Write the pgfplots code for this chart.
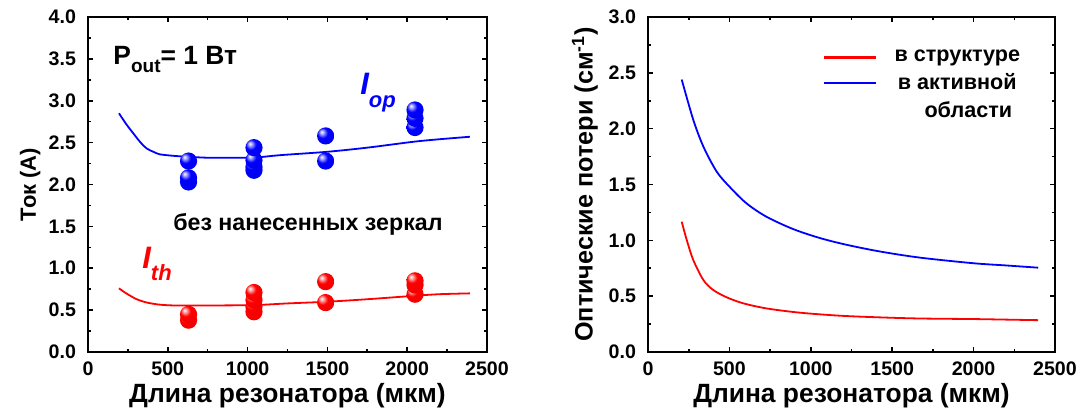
\documentclass[border=0pt]{standalone}
\usepackage{pgfplots}
\pgfplotsset{compat=1.18}
\usepackage{fontspec}
\setmainfont{Liberation Sans}
\pgfdeclareradialshading{redballsh}{\pgfqpoint{-12bp}{12bp}}{color(0bp)=(white); color(7bp)=(red!45!white); color(15bp)=(red); color(40bp)=(red!92!black); color(62bp)=(red!70!black)}
\pgfdeclareradialshading{blueballsh}{\pgfqpoint{-12bp}{12bp}}{color(0bp)=(white); color(7bp)=(blue!45!white); color(15bp)=(blue); color(40bp)=(blue!92!black); color(62bp)=(blue!70!black)}
\pgfdeclareplotmark{redball}{\pgfpathcircle{\pgfpointorigin}{\pgfplotmarksize}\pgfshadepath{redballsh}{0}\pgfusepath{}}
\pgfdeclareplotmark{blueball}{\pgfpathcircle{\pgfpointorigin}{\pgfplotmarksize}\pgfshadepath{blueballsh}{0}\pgfusepath{}}
\begin{document}
\begin{tikzpicture}
\useasboundingbox (0,0) rectangle (544pt,208.5pt);
\pgfplotsset{
  common/.style={
    scale only axis,
    xmin=0, xmax=2500,
    xtick={0,500,1000,1500,2000,2500},
    minor x tick num=1, minor y tick num=1,
    tick align=inside,
    xtick pos=both, ytick pos=both,
    major tick length=2.6pt, minor tick length=1.6pt,
    axis line style={line width=1pt},
    every tick/.style={line width=0.8pt, black},
    tick label style={font=\fontsize{9.8}{11}\selectfont\bfseries},
    /pgf/number format/assume math mode=true,
    xticklabel style={/pgf/number format/1000 sep={}, yshift=-1.5pt},
    yticklabel style={xshift=-2.5pt, /pgf/number format/fixed, /pgf/number format/fixed zerofill, /pgf/number format/precision=1},
    xlabel={Длина резонатора (мкм)},
    xlabel style={font=\fontsize{13.2}{14}\selectfont\bfseries, yshift=3pt},
    clip=false,
  }
}
% ---------- left panel ----------
\begin{axis}[common,
  at={(44pt,32.5pt)}, anchor=south west,
  width=199.5pt, height=167.5pt,
  ymin=0, ymax=4, ytick={0,0.5,1,1.5,2,2.5,3,3.5,4},
  ylabel={Ток (А)},
  ylabel style={font=\fontsize{11}{12}\selectfont\bfseries, at={(axis description cs:-0.145,0.5)}, anchor=center},
]
\addplot[blue, line width=0.9pt, smooth] coordinates {
(194,2.85)(240,2.72)(284,2.61)(330,2.50)(368,2.43)(410,2.39)(451,2.36)(550,2.34)(639,2.33)(744,2.32)(900,2.32)(1036,2.32)(1203,2.35)(1496,2.39)(1750,2.44)(2038,2.51)(2200,2.54)(2393,2.57)};
\addplot[red, line width=0.9pt, smooth] coordinates {
(194,0.76)(240,0.70)(305,0.63)(370,0.59)(451,0.565)(550,0.555)(702,0.555)(1036,0.56)(1250,0.58)(1496,0.60)(1750,0.63)(2038,0.67)(2200,0.69)(2393,0.70)};
\addplot[only marks, mark=blueball, mark size=4.3pt] coordinates {
(630,2.03)(630,2.08)(630,2.28)
(1040,2.17)(1040,2.21)(1040,2.29)(1040,2.44)
(1489,2.28)(1489,2.58)
(2049,2.68)(2049,2.79)(2049,2.89)};
\addplot[only marks, mark=redball, mark size=4.3pt] coordinates {
(630,0.38)(630,0.45)
(1040,0.48)(1040,0.54)(1040,0.62)(1040,0.71)
(1489,0.59)(1489,0.84)
(2049,0.69)(2049,0.80)(2049,0.85)};
\node[anchor=base west, inner sep=0, font=\fontsize{13.2}{15}\selectfont\bfseries] at (axis cs:157,3.43)
  {P\raisebox{-0.55ex}{\fontsize{9.5}{10}\selectfont out}= 1 Вт};
\node[anchor=base west, inner sep=0, text=blue, font=\fontsize{15.5}{16}\selectfont\bfseries\itshape] at (axis cs:1704,3.07)
  {I\raisebox{-0.75ex}{\fontsize{11}{11}\selectfont op}};
\node[anchor=base west, inner sep=0, text=red, font=\fontsize{15.5}{16}\selectfont\bfseries\itshape] at (axis cs:338,1.0)
  {I\raisebox{-0.75ex}{\fontsize{11}{11}\selectfont th}};
\node[inner sep=0, font=\fontsize{11.6}{13}\selectfont\bfseries] at (axis cs:1378,1.52) {без нанесенных зеркал};
\end{axis}
% ---------- right panel ----------
\begin{axis}[common,
  at={(324pt,32.5pt)}, anchor=south west,
  width=203.5pt, height=167.5pt,
  ymin=0, ymax=3, ytick={0,0.5,1,1.5,2,2.5,3},
  ylabel={Оптические потери (см\textsuperscript{-1})},
  ylabel style={font=\fontsize{12.6}{14}\selectfont\bfseries, at={(axis description cs:-0.155,0.5)}, anchor=center},
  legend style={draw=none, fill=none, at={(0.415,0.923)}, anchor=north west,
    font=\fontsize{10.8}{13.5}\selectfont\bfseries, row sep=1.5pt,
    nodes={inner sep=1.5pt},
    /tikz/every odd column/.append style={column sep=7pt}},
  legend image code/.code={\draw[#1, line width=1.1pt] (0pt,0pt) -- (26pt,0pt);},
]
\addplot[red, line width=0.9pt, smooth, tension=0.5] coordinates {
(207,1.167)(238,1.003)(278,0.824)(340,0.645)(401,0.555)(483,0.49)(585,0.436)(729,0.39)(934,0.352)(1179,0.325)(1425,0.31)(1671,0.30)(1998,0.295)(2200,0.29)(2397,0.285)};
\addlegendentry{в структуре}
\addplot[blue, line width=0.9pt, smooth, tension=0.5] coordinates {
(207,2.44)(278,2.08)(340,1.84)(422,1.615)(504,1.475)(606,1.33)(729,1.21)(893,1.10)(1057,1.02)(1220,0.96)(1425,0.90)(1671,0.845)(1998,0.795)(2200,0.775)(2397,0.755)};
\addlegendentry{в активной}
\addlegendimage{empty legend}
\addlegendentry{\hspace*{11pt}области}
\end{axis}
\end{tikzpicture}
\end{document}
